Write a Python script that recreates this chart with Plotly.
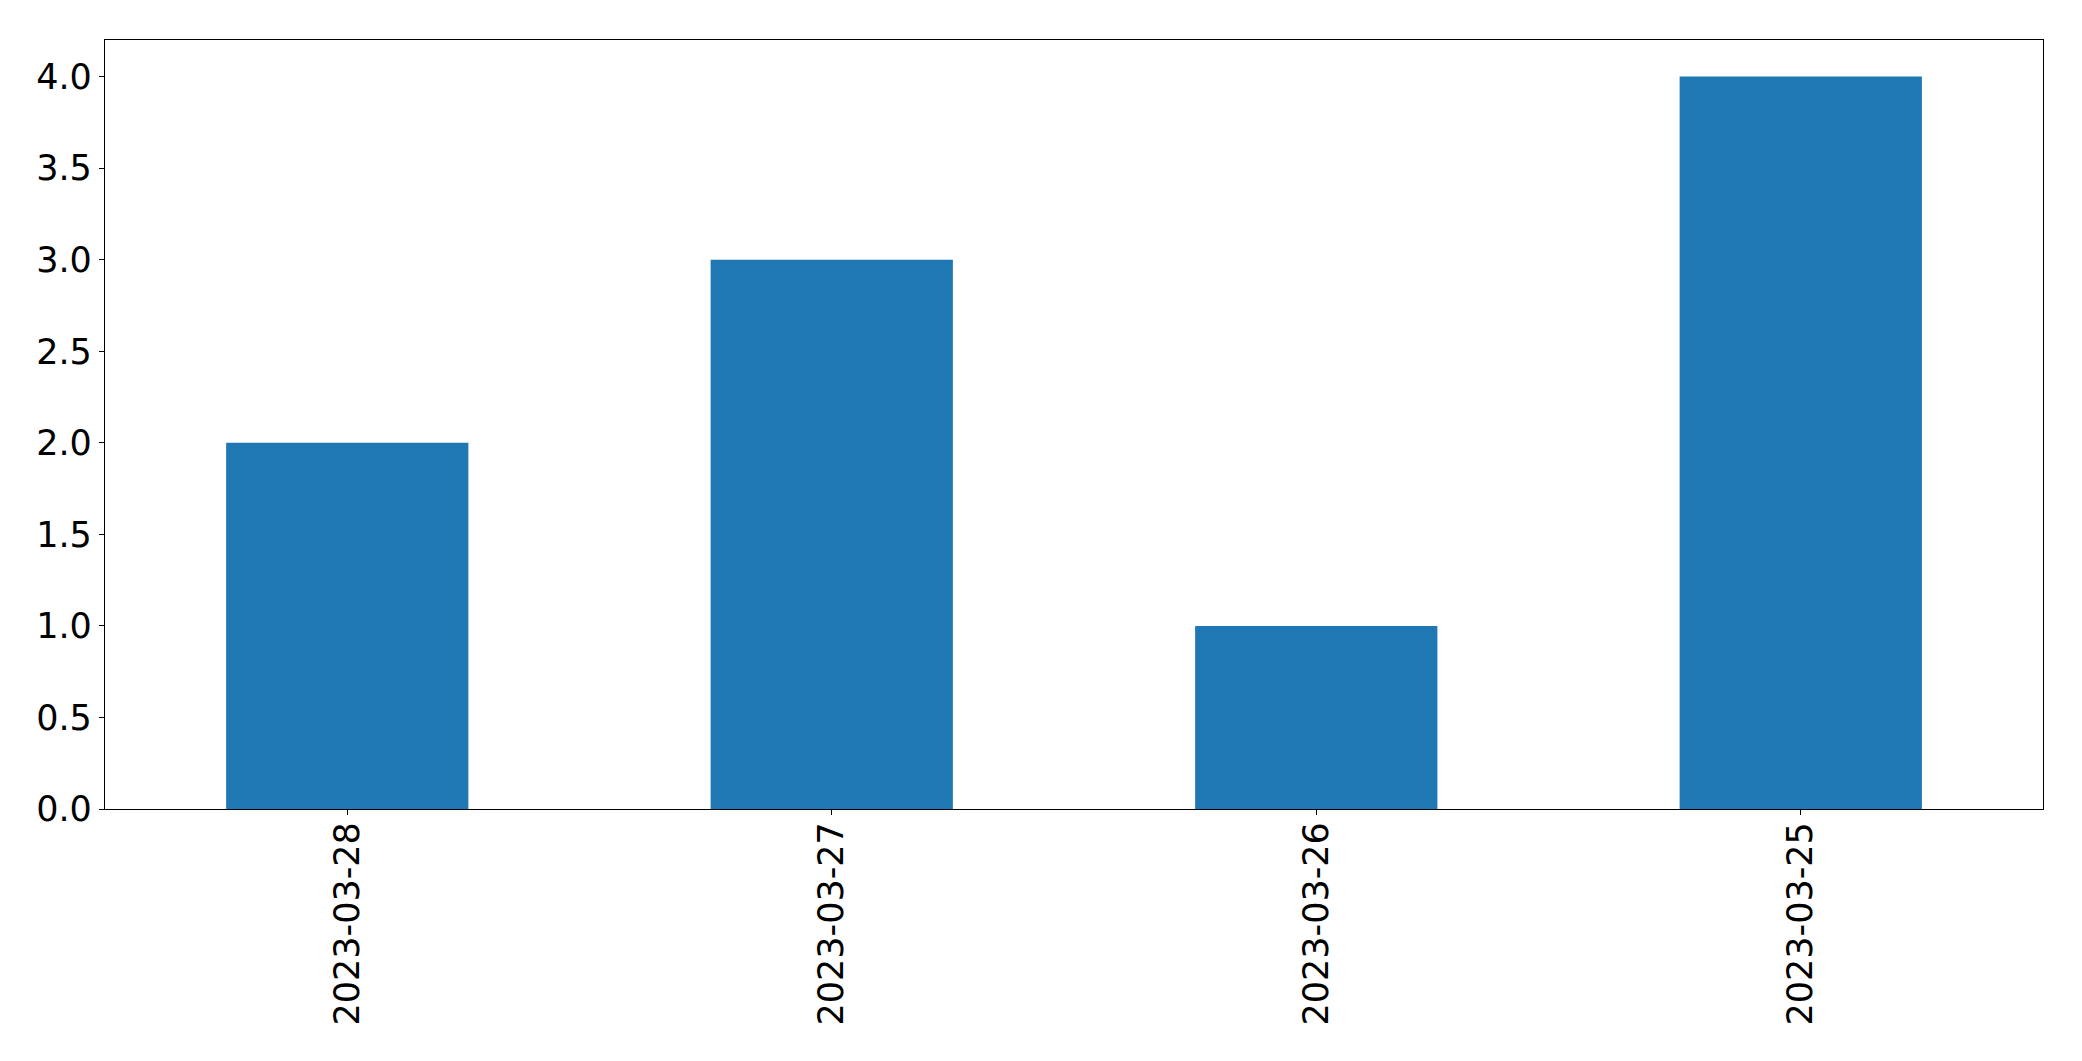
import plotly.graph_objects as go

categories = ["2023-03-28", "2023-03-27", "2023-03-26", "2023-03-25"]
values = [2, 3, 1, 4]
y_ticks = [0.0, 0.5, 1.0, 1.5, 2.0, 2.5, 3.0, 3.5, 4.0]
y_tick_labels = ["0.0", "0.5", "1.0", "1.5", "2.0", "2.5", "3.0", "3.5", "4.0"]

fig = go.Figure(go.Bar(x=categories, y=values, marker=dict(color="#1f77b4", line=dict(width=0))))

axis_common = dict(
    showline=True, linecolor="black", linewidth=1.3, mirror=True,
    showgrid=False, zeroline=False,
    ticks="outside", ticklen=5, tickwidth=1.3, tickcolor="black",
    tickfont=dict(family="DejaVu Sans", size=35, color="black"),
)

# page body has an 8px default margin, so the figure is shrunk by 16px and margins offset by 8px
fig.update_layout(
    width=2066, height=1045,
    margin=dict(l=97, r=31, t=32, b=244),
    paper_bgcolor="white", plot_bgcolor="white",
    bargap=0.5, showlegend=False,
    xaxis=dict(type="category", tickangle=-90, range=[-0.5, 3.5], ticklabelstandoff=-7, **axis_common),
    yaxis=dict(range=[0, 4.2], tickvals=y_ticks, ticktext=y_tick_labels, ticklabelstandoff=0, **axis_common),
)

fig.write_html("out.html")
